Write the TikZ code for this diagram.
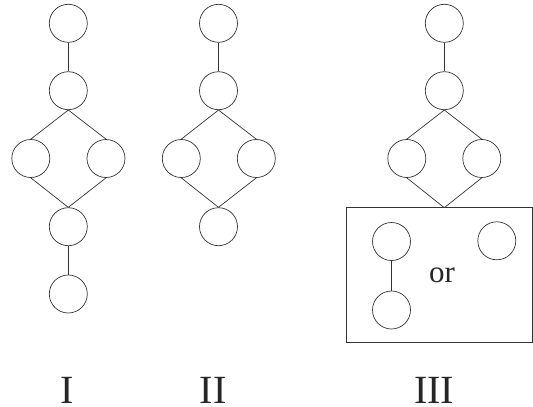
\documentclass[tikz,border=0pt]{standalone}
\usepackage{fontspec}
\setmainfont{Liberation Serif}
\begin{document}
\begin{tikzpicture}[x=1pt,y=-1pt,
  vtx/.style={circle,draw=black!80,line width=0.7pt,minimum size=38pt,inner sep=0pt},
  edge/.style={draw=black!80,line width=0.7pt},
  lbl/.style={font=\fontsize{40}{44}\selectfont,text=black!85,inner sep=0pt}]
\useasboundingbox (0,0) rectangle (533,407);
% Structure I
\node[vtx] (a1) at (68.3,23.3) {};
\node[vtx] (a2) at (68.3,90.7) {};
\node[vtx] (a3) at (30.8,158.5) {};
\node[vtx] (a4) at (106,158.5) {};
\node[vtx] (a5) at (68.3,226.7) {};
\node[vtx] (a6) at (68.3,294) {};
\draw[edge] (a1.south) -- (a2.north);
\draw[edge] (a2.south) -- (a3.north);
\draw[edge] (a2.south) -- (a4.north);
\draw[edge] (a3.south) -- (a5.north);
\draw[edge] (a4.south) -- (a5.north);
\draw[edge] (a5.south) -- (a6.north);
% Structure II
\node[vtx] (b1) at (218.5,23.3) {};
\node[vtx] (b2) at (218.5,90.7) {};
\node[vtx] (b3) at (181.3,158.5) {};
\node[vtx] (b4) at (256.3,158.5) {};
\node[vtx] (b5) at (218.5,226.7) {};
\draw[edge] (b1.south) -- (b2.north);
\draw[edge] (b2.south) -- (b3.north);
\draw[edge] (b2.south) -- (b4.north);
\draw[edge] (b3.south) -- (b5.north);
\draw[edge] (b4.south) -- (b5.north);
% Structure III
\node[vtx] (c1) at (444.3,23.3) {};
\node[vtx] (c2) at (444.3,90.7) {};
\node[vtx] (c3) at (406.8,158.5) {};
\node[vtx] (c4) at (481.8,158.5) {};
\coordinate (cp) at (444.3,207.7);
\draw[edge] (c1.south) -- (c2.north);
\draw[edge] (c2.south) -- (c3.north);
\draw[edge] (c2.south) -- (c4.north);
\draw[edge] (c3.south) -- (cp);
\draw[edge] (c4.south) -- (cp);
\draw[edge] (346,207.7) rectangle (532.3,342.7);
\node[vtx] (d1) at (391.5,241.5) {};
\node[vtx] (d2) at (391.5,310) {};
\node[vtx] (d3) at (496.8,240.8) {};
\draw[edge] (d1.south) -- (d2.north);
\node[font=\fontsize{31}{34}\selectfont,text=black!85,inner sep=0pt,anchor=base] (or) at (442,282.7) {or};
% Labels
\node[lbl] (l1) at (66.7,390) {I};
\node[lbl] (l2) at (213.3,390) {II};
\node[lbl] (l3) at (434.2,390) {III};
\end{tikzpicture}
\end{document}
